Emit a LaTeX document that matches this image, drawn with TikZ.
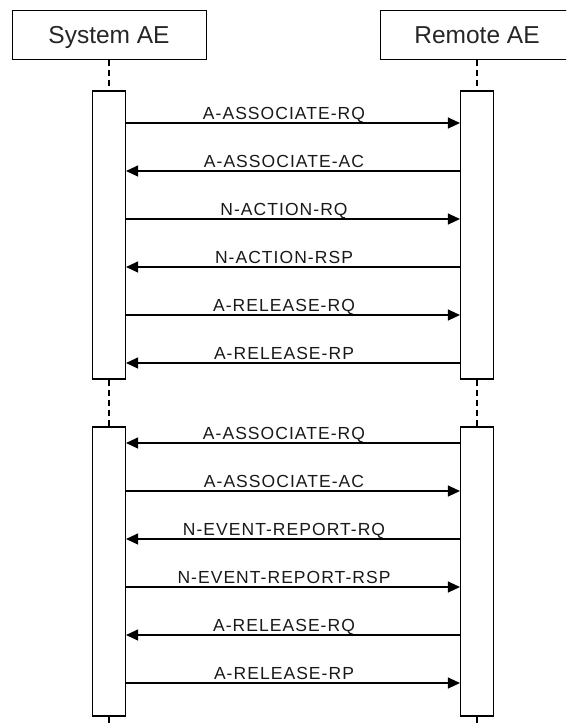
\documentclass[tikz,border=0pt]{standalone}
\usepackage{fontspec}
\setmainfont{Liberation Sans}
\newfontfamily\msgfont[LetterSpace=6]{Liberation Sans}
\usetikzlibrary{arrows.meta}

\begin{document}
\begin{tikzpicture}[x=1pt,y=-1pt,
    head/.style={draw,line width=1pt,minimum width=194pt,minimum height=49pt,
      inner sep=0pt,text height=17.5pt,text depth=0pt,text=black!85,font=\fontsize{24.5}{28}\selectfont},
    bar/.style={draw,line width=1.1pt,fill=white,minimum width=33pt,inner sep=0pt},
    life/.style={line width=1.1pt,dash pattern=on 6pt off 4pt},
    msg/.style={line width=1.1pt},
    tor/.style={-{Triangle[length=12pt,width=11pt]}},
    tol/.style={{Triangle[length=12pt,width=11pt]}-},
    lab/.style={anchor=base,inner sep=0pt,text=black!90,font=\msgfont\fontsize{17.5}{20}\selectfont}]
  \useasboundingbox (0,0) rectangle (566,724);
  \clip (0,0) rectangle (566,724);
  % heads
  \node [head] (sys) at (109,34.5) {System AE};
  \node [head] (rem) at (477,34.5) {Remote AE};
  % activation bars
  \node [bar,minimum height=288pt] (s1) at (109,235) {};
  \node [bar,minimum height=289pt] (s2) at (109,571.5) {};
  \node [bar,minimum height=288pt] (r1) at (477,235) {};
  \node [bar,minimum height=289pt] (r2) at (477,571.5) {};
  % lifelines
  \coordinate (send) at (109,724);
  \coordinate (rend) at (477,724);
  \draw [life] (sys.south) -- (s1.north) (s1.south) -- (s2.north) (s2.south) -- (send);
  \draw [life] (rem.south) -- (r1.north) (r1.south) -- (r2.north) (r2.south) -- (rend);
  % first association
  \foreach \y/\txt/\dir in {123/A-ASSOCIATE-RQ/tor, 171/A-ASSOCIATE-AC/tol,
      219/N-ACTION-RQ/tor, 267/N-ACTION-RSP/tol, 315/A-RELEASE-RQ/tor, 363/A-RELEASE-RP/tol}
  {
    \coordinate (m) at (0,\y);
    \draw [msg,\dir] (s1.east |- m) -- (r1.west |- m)
      node [lab,midway,yshift=3.5pt,xshift=-9pt] {\txt};
  }
  % second association
  \foreach \y/\txt/\dir in {443/A-ASSOCIATE-RQ/tol, 491/A-ASSOCIATE-AC/tor,
      539/N-EVENT-REPORT-RQ/tol, 587/N-EVENT-REPORT-RSP/tor, 635/A-RELEASE-RQ/tol, 683/A-RELEASE-RP/tor}
  {
    \coordinate (m) at (0,\y);
    \draw [msg,\dir] (s2.east |- m) -- (r2.west |- m)
      node [lab,midway,yshift=3.5pt,xshift=-9pt] {\txt};
  }
\end{tikzpicture}
\end{document}
